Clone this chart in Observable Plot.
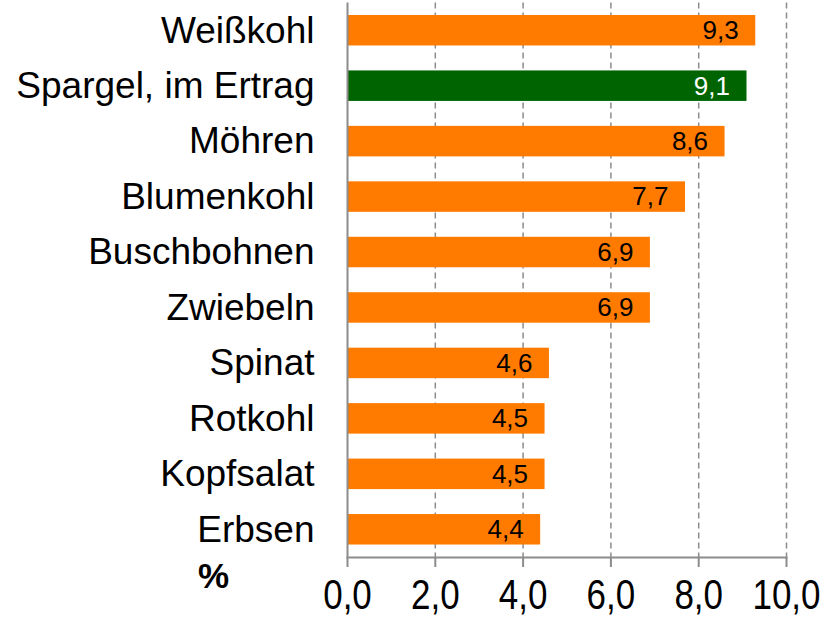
<!DOCTYPE html>
<html>
<head>
<meta charset="utf-8">
<script src="https://cdn.jsdelivr.net/npm/d3@7"></script>
<script src="https://cdn.jsdelivr.net/npm/@observablehq/plot@0.6"></script>
<style>
  html, body { margin: 0; padding: 0; background: #fff; }
</style>
</head>
<body>
<div id="chart"></div>
<script>
const categories = ["Weißkohl", "Spargel, im Ertrag", "Möhren", "Blumenkohl", "Buschbohnen", "Zwiebeln", "Spinat", "Rotkohl", "Kopfsalat", "Erbsen"];
const values = [9.3, 9.1, 8.6, 7.7, 6.9, 6.9, 4.6, 4.5, 4.5, 4.4];
const highlight = "Spargel, im Ertrag";
const xTicks = [0, 2, 4, 6, 8, 10];
const unitLabel = "%";

const data = categories.map((c, i) => ({cat: c, value: values[i]}));
const fmt = d => d.toFixed(1).replace(".", ",");
const ORANGE = "#FF7B00", GREEN = "#006400", AXIS = "#8c8c8c";

const chart = Plot.plot({
  width: 825,
  height: 621,
  marginLeft: 347,
  marginRight: 39,
  marginTop: 2.5,
  marginBottom: 64,
  style: {fontFamily: "'Liberation Sans', Arial, sans-serif", background: "#fff", color: "#000"},
  x: {domain: [0, 10]},
  y: {domain: categories, paddingInner: 0.45, paddingOuter: 0.225, round: false},
  marks: [
    Plot.gridX(xTicks.filter(d => d > 0), {stroke: AXIS, strokeOpacity: 1, strokeWidth: 1.5, strokeDasharray: "6,4"}),
    Plot.barX(data, {x: "value", y: "cat", fill: d => d.cat === highlight ? GREEN : ORANGE}),
    Plot.ruleX([0], {stroke: AXIS, strokeWidth: 2}),
    Plot.frame({anchor: "bottom", stroke: AXIS, strokeWidth: 2}),
    Plot.axisX({ticks: xTicks, tickFormat: fmt, tickSize: 10, tickPadding: 11, fontSize: 35, stroke: AXIS, strokeWidth: 2, label: null}),
    Plot.axisY({tickSize: 0, tickPadding: 33, fontSize: 37, label: null}),
    Plot.text(data, {x: "value", y: "cat", text: d => fmt(d.value), textAnchor: "end", dx: -17, fontSize: 26, fill: d => d.cat === highlight ? "#fff" : "#000"}),
    Plot.text([unitLabel], {frameAnchor: "bottom-left", dx: -134, dy: 19, textAnchor: "middle", lineAnchor: "middle", fontSize: 35, fontWeight: "bold"})
  ]
});
d3.select(chart).selectAll('g[aria-label="x-axis tick label"] text').each(function() {
  const t = this.getAttribute("transform") || "";
  this.setAttribute("transform", t + " scale(1,1.22)");
});
document.getElementById("chart").appendChild(chart);
</script>
</body>
</html>
